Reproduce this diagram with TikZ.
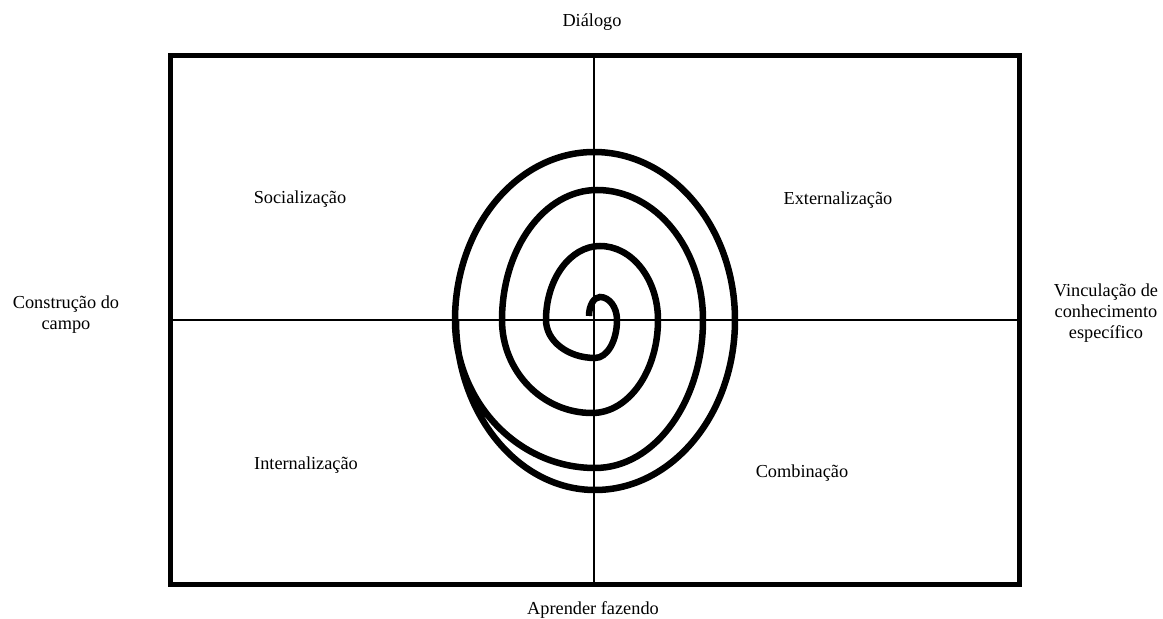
\documentclass[tikz,border=0pt]{standalone}
\usepackage{fontspec}
\setmainfont{Liberation Serif}
\usetikzlibrary{positioning}

\begin{document}
\begin{tikzpicture}[
      x=1pt, y=1pt,
      every node/.style={font=\fontsize{18.3}{21}\selectfont, inner sep=0pt},
      label/.style={align=center},
      frame/.style={line width=5pt},
      axis/.style={line width=1.5pt},
      spiral/.style={line width=6.5pt}
  ]
    \useasboundingbox (0,0) rectangle (1163,619);
    % frame and axes
    \coordinate (sw) at (170,34);
    \coordinate (ne) at (1019.5,563);
    \draw[frame] (sw) rectangle (ne);
    \coordinate (top) at (594,563);
    \coordinate (bottom) at (594,34);
    \coordinate (left) at (170,299);
    \coordinate (right) at (1019.5,299);
    \draw[axis] (top) -- (bottom);
    \draw[axis] (left) -- (right);
    % spiral from quarter arcs
    \coordinate (tip) at (589,303);
    \draw[spiral] (tip) \foreach \s/\a/\b in {180/11/19, 90/17/23, 0/22/38, -90/49/38,
        180/54/74, 90/58/74, 0/66/93, -90/90/93,
        180/95/130, 90/106/130, 0/108/148, -90/140/148,
        180/139/168, 90/141/168, 0/140/170, -90/139/170}
      { arc[start angle=\s, delta angle=-90, x radius=\a, y radius=\b] };
    % outer labels
    \node[label] (dialogo) at (592,596.5) {Diálogo};
    \node[label] (aprender) at (593,9) {Aprender fazendo};
    \node[label] (construcao) at (66,304) {Construção do\\campo};
    \node[label] (vinculacao) at (1106,305.5) {Vinculação de\\conhecimento\\específico};
    % quadrant labels
    \node[label] (socializacao) at (300,420) {Socialização};
    \node[label] (externalizacao) at (838,419) {Externalização};
    \node[label] (internalizacao) at (306,154) {Internalização};
    \node[label] (combinacao) at (802,146) {Combinação};
\end{tikzpicture}
\end{document}
